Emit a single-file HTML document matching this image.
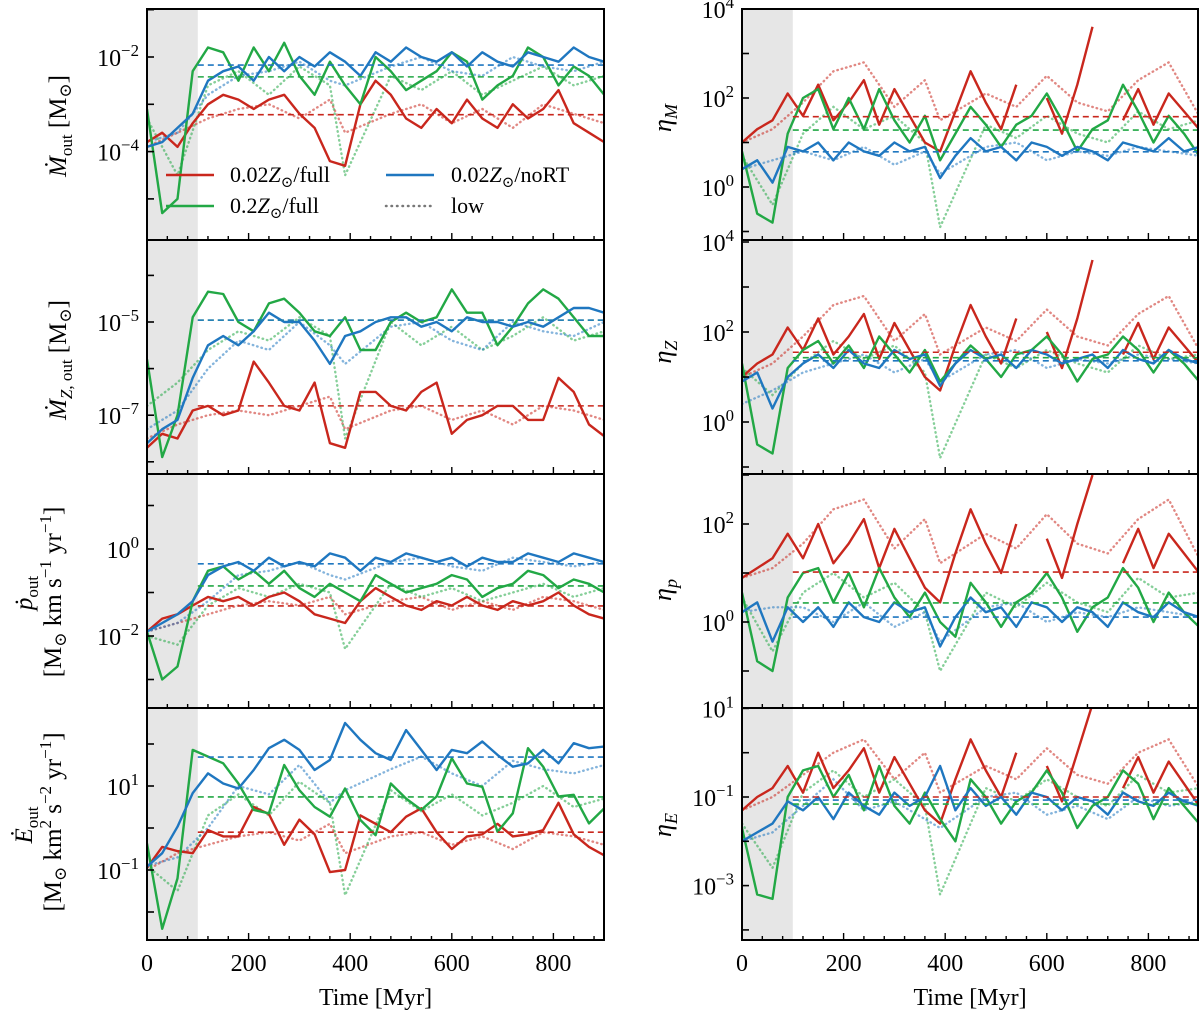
<!DOCTYPE html>
<html><head><meta charset="utf-8"><style>
html,body{margin:0;padding:0;background:#fff;}
svg{display:block;font-family:"Liberation Serif","DejaVu Serif",serif;}
</style></head><body>
<svg id="fig" width="1200" height="1015" viewBox="0 0 1200 1015" xmlns="http://www.w3.org/2000/svg"></svg>
<script>
// ---- data (log10 values) ----
const TIME = [0,30,60,90,120,150,180,210,240,270,300,330,360,390,420,450,480,510,540,570,600,630,660,690,720,750,780,810,840,870,900];
const TIME_LOW = [0,60,120,180,240,300,360,390,480,540,600,660,720,780,840,900];
const MEAN_START = 100, MEAN_END = 900;

const L1_red = [-3.8,-3.6,-3.9,-3.4,-3.0,-2.8,-2.9,-3.1,-2.9,-2.8,-3.2,-3.5,-4.2,-4.3,-3.0,-2.5,-2.8,-3.3,-3.5,-3.1,-3.4,-2.9,-3.3,-3.5,-3.0,-3.3,-3.1,-2.7,-3.4,-3.6,-3.8];
const L1_green = [-3.1,-5.3,-5.0,-2.3,-1.8,-1.9,-2.5,-1.8,-2.3,-1.7,-2.4,-2.8,-2.1,-2.6,-3.0,-2.0,-2.3,-2.7,-2.5,-2.3,-1.9,-2.1,-2.9,-2.6,-2.4,-1.8,-2.0,-2.6,-2.2,-2.4,-2.8];
const L1_blue = [-3.9,-3.8,-3.5,-3.2,-2.5,-2.3,-2.2,-2.5,-2.0,-2.3,-2.0,-2.2,-1.9,-2.1,-2.4,-1.9,-2.1,-1.8,-2.0,-2.1,-1.9,-2.2,-1.9,-2.1,-2.2,-1.9,-2.0,-2.1,-1.8,-2.0,-2.1];
const L1_redLow = [-3.9,-3.6,-3.3,-3.1,-3.0,-3.3,-2.9,-3.6,-3.2,-3.0,-3.4,-3.1,-3.5,-3.0,-3.2,-3.4];
const L1_greenLow = [-3.3,-4.5,-2.6,-2.3,-2.8,-2.2,-2.6,-4.5,-2.4,-2.7,-2.3,-2.8,-2.5,-2.2,-2.6,-2.4];
const L1_blueLow = [-3.8,-3.6,-2.8,-2.4,-2.3,-2.1,-2.5,-2.6,-2.2,-2.0,-2.3,-2.4,-2.0,-2.2,-2.3,-2.1];
const L1_means = [-3.22,-2.42,-2.17];

const L2_red = [-7.7,-7.4,-7.5,-6.9,-6.8,-7.0,-6.9,-5.85,-6.3,-6.8,-6.9,-6.3,-7.6,-7.7,-6.5,-6.5,-6.8,-6.9,-6.5,-6.3,-7.4,-7.1,-7.0,-6.8,-6.8,-7.1,-7.1,-6.2,-6.5,-7.2,-7.45];
const L2_green = [-5.8,-7.9,-7.0,-4.9,-4.35,-4.4,-5.0,-5.2,-4.6,-4.5,-4.8,-5.2,-5.3,-4.9,-5.6,-5.6,-5.0,-4.8,-5.0,-4.9,-4.3,-4.8,-4.8,-5.5,-5.1,-4.6,-4.3,-4.5,-4.9,-5.3,-5.3];
const L2_blue = [-7.6,-7.3,-7.1,-6.2,-5.5,-5.3,-5.5,-5.2,-4.8,-5.0,-5.0,-5.4,-5.9,-5.3,-5.2,-5.0,-4.9,-4.9,-5.1,-5.0,-5.2,-4.9,-5.0,-5.0,-5.1,-5.0,-5.1,-4.9,-4.7,-4.7,-4.8];
const L2_redLow = [-7.5,-7.2,-7.0,-6.9,-7.0,-6.8,-6.6,-7.3,-6.9,-6.8,-7.1,-6.9,-7.2,-6.8,-6.9,-7.1];
const L2_greenLow = [-6.8,-6.3,-5.6,-5.2,-5.4,-4.9,-5.3,-7.5,-5.0,-5.5,-5.1,-5.6,-5.3,-4.9,-5.4,-5.2];
const L2_blueLow = [-7.3,-6.9,-6.0,-5.4,-5.6,-5.0,-5.5,-5.9,-5.1,-5.0,-5.4,-5.6,-5.0,-5.2,-5.3,-5.0];
const L2_means = [-6.8,-4.96,-4.96];

const L3_red = [-1.9,-1.6,-1.5,-1.3,-1.1,-1.2,-1.1,-1.3,-1.1,-1.0,-1.2,-1.5,-1.6,-1.7,-1.2,-0.9,-1.1,-1.3,-1.4,-1.2,-1.3,-1.1,-1.3,-1.4,-1.2,-1.3,-1.2,-1.0,-1.3,-1.5,-1.6];
const L3_green = [-1.9,-3.0,-2.7,-1.2,-0.5,-0.4,-0.7,-0.5,-0.8,-0.5,-0.9,-1.1,-0.8,-1.0,-1.2,-0.6,-0.8,-1.0,-0.9,-0.8,-0.6,-0.7,-1.1,-0.9,-0.8,-0.5,-0.6,-0.9,-0.7,-0.8,-1.0];
const L3_blue = [-1.9,-1.7,-1.5,-1.2,-0.6,-0.4,-0.3,-0.5,-0.2,-0.4,-0.3,-0.4,-0.1,-0.2,-0.5,-0.2,-0.3,-0.1,-0.2,-0.3,-0.2,-0.4,-0.2,-0.3,-0.3,-0.1,-0.2,-0.3,-0.1,-0.2,-0.3];
const L3_redLow = [-1.9,-1.7,-1.5,-1.3,-1.2,-1.3,-1.1,-1.5,-1.2,-1.1,-1.4,-1.2,-1.4,-1.1,-1.2,-1.4];
const L3_greenLow = [-2.0,-2.2,-1.3,-0.9,-1.1,-0.8,-1.0,-2.3,-0.8,-1.1,-0.9,-1.2,-1.0,-0.8,-1.1,-0.9];
const L3_blueLow = [-1.9,-1.7,-1.2,-0.6,-0.5,-0.3,-0.6,-0.7,-0.3,-0.2,-0.4,-0.5,-0.2,-0.3,-0.4,-0.3];
const L3_means = [-1.31,-0.85,-0.34];

const L4_red = [-0.95,-0.45,-0.55,-0.6,-0.05,-0.2,-0.2,0.5,0.33,-0.4,0.2,-0.15,-1.05,-1.0,0.3,0.1,-0.1,0.27,0.47,-0.1,-0.5,-0.2,-0.15,0.1,-0.2,-0.15,-0.05,0.6,-0.15,-0.45,-0.65];
const L4_green = [-0.37,-2.4,-1.2,1.86,1.7,1.54,1.06,0.43,0.35,1.5,0.9,0.5,0.27,0.94,0.19,-0.17,1.06,0.7,0.43,0.75,1.66,1.06,0.98,-0.09,0.35,1.9,1.46,0.75,0.79,0.11,0.47];
const L4_blue = [-0.92,-0.6,0.03,0.83,1.3,1.06,0.94,1.38,1.9,2.1,1.86,1.38,1.62,2.5,2.1,1.78,1.62,2.33,1.86,1.38,1.86,1.78,2.06,1.74,1.46,1.54,1.86,1.54,2.02,1.9,1.94];
const L4_redLow = [-1.0,-0.6,-0.4,-0.2,-0.1,-0.3,0.1,-0.6,-0.2,-0.1,-0.4,-0.2,-0.5,-0.1,-0.2,-0.4];
const L4_greenLow = [-0.9,-1.5,0.3,0.8,0.3,1.1,0.6,-1.6,0.9,0.4,0.8,0.3,0.6,1.0,0.5,0.7];
const L4_blueLow = [-0.9,-0.7,0.0,1.0,0.8,1.5,0.6,0.9,1.4,1.7,1.3,1.0,1.6,1.4,1.3,1.5];
const L4_means = [-0.1,0.74,1.69];

const R1_red = [1.0,1.3,1.5,2.1,1.6,2.3,1.5,1.9,2.4,1.4,2.2,1.6,1.0,0.8,1.7,2.6,1.9,1.3,2.3,null,2.0,1.2,2.3,3.6,null,1.5,2.2,1.4,2.1,1.7,1.3];
const R1_green = [0.8,-0.6,-0.8,1.2,2.0,2.2,1.3,2.0,1.3,2.2,1.5,1.0,1.6,0.6,1.2,1.8,1.4,0.9,1.4,1.6,2.1,1.5,0.8,1.3,1.5,2.3,1.7,1.0,1.6,1.2,0.7];
const R1_blue = [0.4,0.6,0.1,0.9,0.8,1.0,0.6,1.0,0.8,0.7,1.0,0.8,0.9,0.2,0.7,1.1,0.8,0.9,0.6,1.0,0.9,0.7,0.9,0.8,0.6,1.0,0.9,0.8,1.1,0.8,0.9];
const R1_redLow = [1.0,1.3,1.9,2.6,2.8,1.8,2.4,1.5,2.1,1.8,2.5,1.9,1.7,2.4,2.8,1.6];
const R1_greenLow = [0.7,-0.4,1.2,1.8,1.3,1.6,1.0,-0.9,1.4,1.1,1.6,1.2,1.0,1.7,1.3,1.5];
const R1_blueLow = [0.4,0.6,0.8,0.6,0.9,0.5,0.8,0.3,0.9,1.0,0.6,0.8,0.7,0.9,0.8,0.7];
const R1_means = [1.58,1.28,0.79];

const R2_red = [1.0,1.3,1.5,2.1,1.6,2.3,1.5,1.9,2.4,1.4,2.2,1.6,1.0,0.7,1.7,2.6,1.9,1.3,2.3,null,2.0,1.2,2.3,3.6,null,1.5,2.2,1.4,2.1,1.7,1.3];
const R2_green = [1.3,-0.5,-0.7,1.2,1.6,1.8,1.3,1.7,1.2,1.9,1.5,1.1,1.6,0.9,1.3,1.7,1.4,1.0,1.5,1.6,1.9,1.5,0.9,1.4,1.5,1.9,1.6,1.1,1.6,1.3,0.9];
const R2_blue = [0.9,1.1,0.3,1.0,1.3,1.5,1.2,1.6,1.3,1.2,1.6,1.4,1.5,0.8,1.3,1.6,1.4,1.5,1.2,1.6,1.5,1.3,1.4,1.5,1.2,1.6,1.4,1.3,1.6,1.4,1.3];
const R2_redLow = [1.0,1.3,1.9,2.6,2.8,1.8,2.4,1.5,2.1,1.8,2.5,1.9,1.7,2.4,2.8,1.6];
const R2_greenLow = [1.2,0.6,1.3,1.8,1.4,1.7,1.1,-0.8,1.5,1.2,1.6,1.3,1.1,1.7,1.4,1.5];
const R2_blueLow = [0.4,0.7,1.1,1.3,1.5,1.1,1.4,0.9,1.5,1.6,1.2,1.4,1.3,1.5,1.4,1.3];
const R2_means = [1.55,1.43,1.36];

const R3_red = [0.9,1.1,1.3,1.8,1.3,2.0,1.2,1.6,2.1,1.1,1.9,1.3,0.7,0.4,1.4,2.3,1.6,1.0,2.0,null,1.7,0.9,2.0,3.0,null,1.2,1.9,1.1,1.8,1.4,1.0];
const R3_green = [0.6,-0.8,-1.0,0.5,1.0,1.1,0.4,1.0,0.3,1.1,0.5,0.1,0.6,0.0,-0.3,0.8,0.4,-0.1,0.4,0.6,1.0,0.5,-0.2,0.3,0.5,1.1,0.7,0.0,0.6,0.2,-0.1];
const R3_blue = [0.2,0.4,-0.4,0.3,0.0,0.3,-0.1,0.4,0.1,0.0,0.4,0.2,0.3,-0.5,0.1,0.5,0.2,0.3,-0.1,0.4,0.3,0.0,0.3,0.2,-0.1,0.4,0.2,0.1,0.4,0.2,0.1];
const R3_redLow = [0.9,1.1,1.6,2.3,2.5,1.5,2.1,1.2,1.8,1.5,2.2,1.6,1.4,2.1,2.5,1.3];
const R3_greenLow = [0.5,-0.6,0.6,1.0,0.5,0.8,0.2,-1.0,0.6,0.3,0.8,0.4,0.2,0.9,0.5,0.6];
const R3_blueLow = [0.2,0.3,0.3,0.0,0.4,-0.1,0.2,-0.4,0.3,0.4,0.0,0.2,0.1,0.3,0.2,0.1];
const R3_means = [1.02,0.39,0.10];

const R4_red = [-1.3,-1.0,-0.8,-0.3,-0.9,0.0,-0.8,-0.4,0.1,-0.9,-0.1,-0.7,-1.3,-1.6,-0.6,0.3,-0.4,-1.0,0.0,null,-0.3,-1.1,0.0,1.1,null,-0.8,-0.1,-0.9,-0.2,-0.7,-1.2];
const R4_green = [-1.7,-3.2,-3.3,-1.0,-0.4,-0.3,-1.0,-0.5,-1.3,-0.3,-1.2,-1.6,-0.9,-1.5,-2.0,-0.6,-1.0,-1.6,-1.1,-0.9,-0.4,-0.9,-1.7,-1.2,-1.0,-0.4,-0.7,-1.5,-0.8,-1.2,-1.6];
const R4_blue = [-2.0,-1.8,-1.6,-1.1,-1.3,-1.0,-1.5,-0.9,-1.2,-1.4,-0.9,-1.2,-1.0,-0.3,-1.3,-0.8,-1.2,-1.0,-1.4,-0.9,-1.0,-1.3,-1.0,-1.1,-1.4,-0.9,-1.1,-1.2,-0.9,-1.1,-1.2];
const R4_redLow = [-1.3,-1.0,-0.5,0.0,0.3,-0.6,0.0,-0.9,-0.3,-0.6,0.1,-0.5,-0.7,0.0,0.3,-0.8];
const R4_greenLow = [-1.6,-2.6,-0.9,-0.4,-1.0,-0.6,-1.2,-3.2,-0.8,-1.1,-0.6,-1.0,-1.2,-0.5,-0.9,-0.8];
const R4_blueLow = [-2.0,-1.8,-1.2,-0.6,-1.3,-1.1,-1.5,-1.7,-1.0,-0.9,-1.4,-1.2,-1.5,-1.0,-1.2,-1.1];
const R4_means = [-1.0,-1.16,-1.07];

const X_TICK_LABELS = [0,200,400,600,800];

// ---- layout ----
const NS = "http://www.w3.org/2000/svg";
const svg = document.getElementById('fig');
const COLORS = ['#c9271d','#22a845','#1f77c0'];
const SERIES_NAMES = ['red-002-full','green-02-full','blue-002-nort'];
const PX_PER_MYR = 0.508;

const panels = [
 {name:'mdot-out', x0:147, x1:604, top:9, bottom:240, ref:-2, refY:57, dec:47.3, labels:[-2,-4], d:[L1_red,L1_green,L1_blue], low:[L1_redLow,L1_greenLow,L1_blueLow], means:L1_means, bottomAxis:false},
 {name:'mdot-z-out', x0:147, x1:604, top:240, bottom:474, ref:-5, refY:322, dec:46.6, labels:[-5,-7], d:[L2_red,L2_green,L2_blue], low:[L2_redLow,L2_greenLow,L2_blueLow], means:L2_means, bottomAxis:false},
 {name:'pdot-out', x0:147, x1:604, top:474, bottom:708, ref:0, refY:549, dec:43.5, labels:[0,-2], d:[L3_red,L3_green,L3_blue], low:[L3_redLow,L3_greenLow,L3_blueLow], means:L3_means, bottomAxis:false},
 {name:'edot-out', x0:147, x1:604, top:708, bottom:940, ref:1, refY:786, dec:42, labels:[1,-1], d:[L4_red,L4_green,L4_blue], low:[L4_redLow,L4_greenLow,L4_blueLow], means:L4_means, bottomAxis:true},
 {name:'eta-m', x0:742, x1:1198, top:9, bottom:240, ref:0, refY:187, dec:44.5, labels:[4,2,0], d:[R1_red,R1_green,R1_blue], low:[R1_redLow,R1_greenLow,R1_blueLow], means:R1_means, bottomAxis:false},
 {name:'eta-z', x0:742, x1:1198, top:240, bottom:474, ref:0, refY:422, dec:45, labels:[4,2,0], d:[R2_red,R2_green,R2_blue], low:[R2_redLow,R2_greenLow,R2_blueLow], means:R2_means, bottomAxis:false},
 {name:'eta-p', x0:742, x1:1198, top:474, bottom:708, ref:0, refY:622, dec:49, labels:[2,0], d:[R3_red,R3_green,R3_blue], low:[R3_redLow,R3_greenLow,R3_blueLow], means:R3_means, bottomAxis:false},
 {name:'eta-e', x0:742, x1:1198, top:708, bottom:940, ref:-1, refY:797, dec:44.3, labels:[1,-1,-3], d:[R4_red,R4_green,R4_blue], low:[R4_redLow,R4_greenLow,R4_blueLow], means:R4_means, bottomAxis:true}
];

function el(tag, attrs, parent){
  const e = document.createElementNS(NS, tag);
  for (const k in attrs) e.setAttribute(k, attrs[k]);
  (parent||svg).appendChild(e);
  return e;
}
function supLabel(parent, x, y, base, exp, anchor, size){
  const t = el('text', {x:x, y:y, 'font-size':size, 'text-anchor':anchor, fill:'#000'}, parent);
  t.appendChild(document.createTextNode(base));
  const s = el('tspan', {dy:-10, 'font-size':size*0.7}, t);
  s.textContent = exp;
  return t;
}

panels.forEach((p, pi) => {
  const g = el('g', {});
  
  
  const xs = t => p.x0 + t * PX_PER_MYR;
  const ys = v => p.refY - (v - p.ref) * p.dec;
  const cid = 'clip' + pi;
  const cp = el('clipPath', {id:cid}, g);
  el('rect', {x:p.x0, y:p.top, width:p.x1-p.x0, height:p.bottom-p.top}, cp);

  const band = el('rect', {x:xs(0), y:p.top, width:xs(100)-xs(0), height:p.bottom-p.top, fill:'#e6e6e6'}, g);
  
  

  const plot = el('g', {'clip-path':'url(#'+cid+')'}, g);
  p.low.forEach((arr, si) => {
    let dstr = '';
    arr.forEach((v, i) => { dstr += (i ? 'L' : 'M') + xs(TIME_LOW[i]).toFixed(1) + ' ' + ys(v).toFixed(1); });
    const pth = el('path', {d:dstr, fill:'none', stroke:COLORS[si], 'stroke-opacity':0.55, 'stroke-width':2.4, 'stroke-dasharray':'0.5 4', 'stroke-linecap':'round'}, plot);
    
    
  });
  p.d.forEach((arr, si) => {
    let dstr = ''; let pen = false;
    arr.forEach((v, i) => {
      if (v === null) { pen = false; return; }
      dstr += (pen ? 'L' : 'M') + xs(TIME[i]).toFixed(1) + ' ' + ys(v).toFixed(1);
      pen = true;
    });
    const pth = el('path', {d:dstr, fill:'none', stroke:COLORS[si], 'stroke-width':2.4, 'stroke-linejoin':'round'}, plot);
    
    
  });
  p.means.forEach((v, si) => {
    const ln = el('line', {x1:xs(MEAN_START), x2:xs(MEAN_END), y1:ys(v), y2:ys(v), stroke:COLORS[si], 'stroke-width':1.6, 'stroke-dasharray':'6 4'}, plot);
    
    
  });

  const vTop = p.ref + (p.refY - p.top) / p.dec;
  const vBot = p.ref - (p.bottom - p.refY) / p.dec;
  for (let k = Math.ceil(vBot - 0.01); k <= Math.floor(vTop + 0.05); k++) {
    const y = Math.min(Math.max(ys(k), p.top), p.bottom);
    el('line', {x1:p.x0, x2:p.x0+7, y1:y, y2:y, stroke:'#000', 'stroke-width':1.6}, g);
  }
  p.labels.forEach(k => {
    const lb = supLabel(g, p.x0 - 8, ys(k) + 9, '10', (k < 0 ? '\u2212' + (-k) : '' + k), 'end', 24);
    
    
  });
  for (let t = 0; t <= 900; t += 40) {
    const major = t % 200 === 0;
    el('line', {x1:xs(t), x2:xs(t), y1:p.bottom, y2:p.bottom-(major?7:4), stroke:'#000', 'stroke-width':1.4}, g);
  }
  if (p.bottomAxis) {
    X_TICK_LABELS.forEach(t => {
      const tl = el('text', {x:xs(t), y:p.bottom+31, 'font-size':24, 'text-anchor':'middle'}, g);
      tl.textContent = t;
      
      
    });
    const xt = el('text', {x:(p.x0+p.x1)/2, y:1005, 'font-size':24, 'text-anchor':'middle'}, g);
    xt.textContent = 'Time [Myr]';
    
    
  }
  const fr = el('rect', {x:p.x0, y:p.top, width:p.x1-p.x0, height:p.bottom-p.top, fill:'none', stroke:'#000', 'stroke-width':2}, g);
  
  
});
</script>
<svg style="position:absolute;left:0;top:0" width="1200" height="1015" xmlns="http://www.w3.org/2000/svg" font-family="Liberation Serif, DejaVu Serif, serif">
 <g transform="translate(66,126) rotate(-90)"><text text-anchor="middle" font-size="25"><tspan font-style="italic">Ṁ</tspan><tspan font-size="17" dy="6">out</tspan><tspan dy="-6"> [M</tspan><tspan font-size="17" dy="5">⊙</tspan><tspan dy="-5">]</tspan></text></g>
 <g transform="translate(66,360) rotate(-90)"><text text-anchor="middle" font-size="25"><tspan font-style="italic">Ṁ</tspan><tspan font-size="17" dy="6"><tspan font-style="italic">Z</tspan>, out</tspan><tspan dy="-6"> [M</tspan><tspan font-size="17" dy="5">⊙</tspan><tspan dy="-5">]</tspan></text></g>
 <g transform="translate(32,593) rotate(-90)"><text text-anchor="middle" font-size="25"><tspan font-style="italic">ṗ</tspan><tspan font-size="17" dy="6">out</tspan></text></g>
 <g transform="translate(61,592) rotate(-90)"><text text-anchor="middle" font-size="25">[M<tspan font-size="17" dy="5">⊙</tspan><tspan dy="-5"> km s</tspan><tspan font-size="17" dy="-10">−1</tspan><tspan dy="10"> yr</tspan><tspan font-size="17" dy="-10">−1</tspan><tspan dy="10">]</tspan></text></g>
 <g transform="translate(32,825) rotate(-90)"><text text-anchor="middle" font-size="25"><tspan font-style="italic">Ė</tspan><tspan font-size="17" dy="6">out</tspan></text></g>
 <g transform="translate(61,822) rotate(-90)"><text text-anchor="middle" font-size="25">[M<tspan font-size="17" dy="5">⊙</tspan><tspan dy="-5"> km</tspan><tspan font-size="17" dy="-10">2</tspan><tspan dy="10"> s</tspan><tspan font-size="17" dy="-10">−2</tspan><tspan dy="10"> yr</tspan><tspan font-size="17" dy="-10">−1</tspan><tspan dy="10">]</tspan></text></g>
 <g transform="translate(671,118) rotate(-90)"><text text-anchor="middle" font-size="26" font-style="italic">η<tspan font-size="18" dy="6">M</tspan></text></g>
 <g transform="translate(671,352) rotate(-90)"><text text-anchor="middle" font-size="26" font-style="italic">η<tspan font-size="18" dy="6">Z</tspan></text></g>
 <g transform="translate(671,590) rotate(-90)"><text text-anchor="middle" font-size="26" font-style="italic">η<tspan font-size="18" dy="6">p</tspan></text></g>
 <g transform="translate(671,825) rotate(-90)"><text text-anchor="middle" font-size="26" font-style="italic">η<tspan font-size="18" dy="6">E</tspan></text></g>
 <g font-size="22">
  <g><line x1="166" x2="214" y1="175" y2="175" stroke="#c9271d" stroke-width="2.5"/><text x="230" y="182">0.02<tspan font-style="italic">Z</tspan><tspan font-size="15" dy="5">⊙</tspan><tspan dy="-5">/full</tspan></text></g>
  <g><line x1="166" x2="214" y1="206" y2="206" stroke="#22a845" stroke-width="2.5"/><text x="230" y="213">0.2<tspan font-style="italic">Z</tspan><tspan font-size="15" dy="5">⊙</tspan><tspan dy="-5">/full</tspan></text></g>
  <g><line x1="386" x2="434" y1="175" y2="175" stroke="#1f77c0" stroke-width="2.5"/><text x="451" y="182">0.02<tspan font-style="italic">Z</tspan><tspan font-size="15" dy="5">⊙</tspan><tspan dy="-5">/noRT</tspan></text></g>
  <g><line x1="386" x2="434" y1="206" y2="206" stroke="#777" stroke-width="2.5" stroke-dasharray="0.5 5" stroke-linecap="round"/><text x="451" y="213">low</text></g>
 </g>
</svg>
</body></html>
